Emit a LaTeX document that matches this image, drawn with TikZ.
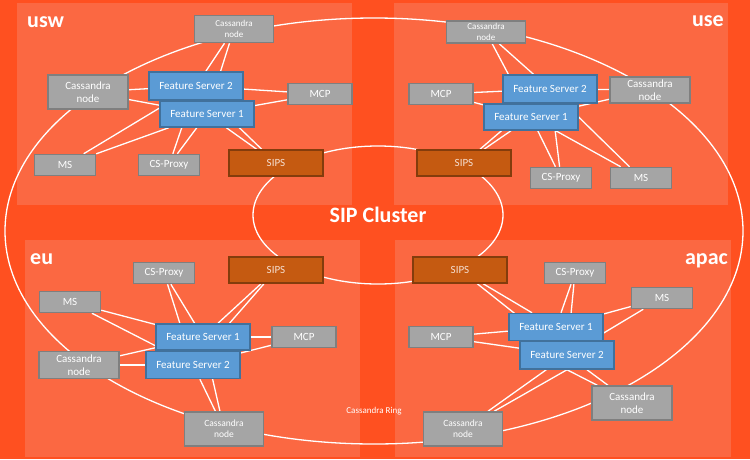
\documentclass[tikz,border=0pt]{standalone}
\usepackage{fontspec}
\setmainfont{Carlito}
\usetikzlibrary{shapes.geometric, positioning}
\pgfdeclarelayer{back}
\pgfdeclarelayer{lines}
\pgfsetlayers{back,lines,main}
\definecolor{frame}{RGB}{255,80,32}
\definecolor{panel}{RGB}{251,104,66}
\definecolor{greyfill}{RGB}{165,165,165}
\definecolor{greyline}{RGB}{127,127,127}
\definecolor{bluefill}{RGB}{91,155,213}
\definecolor{blueline}{RGB}{65,113,156}
\definecolor{sipsfill}{RGB}{197,90,17}
\definecolor{sipsline}{RGB}{132,60,12}
\definecolor{sipstext}{RGB}{245,222,208}

\begin{document}
\begin{tikzpicture}[
    x=1pt, y=-1pt,
    gbox/.style={rectangle, draw=greyline, fill=greyfill, line width=1.5pt, inner sep=1pt, text=white, align=center, font=\fontsize{11pt}{13pt}\selectfont},
    smallbox/.style={gbox, minimum width=61pt, minimum height=21pt},
    mcpbox/.style={gbox, minimum width=64pt, minimum height=21pt},
    cassnode/.style={gbox, minimum width=80pt, minimum height=30pt},
    cassmall/.style={gbox, minimum width=79pt, minimum height=27pt, font=\fontsize{9pt}{10.5pt}\selectfont},
    server/.style={gbox, draw=blueline, fill=bluefill, minimum width=94pt, minimum height=27pt},
    sipsbox/.style={gbox, draw=sipsline, fill=sipsfill, text=sipstext, minimum width=94pt, minimum height=26pt},
    region/.style={font=\fontsize{22pt}{24pt}\selectfont\bfseries, text=white, inner sep=0pt},
    ring/.style={ellipse, draw=white, line width=1.3pt, inner sep=0pt},
    link/.style={draw=white, line width=1.3pt}
]

\begin{pgfonlayer}{back}
\fill[frame] (0,0) rectangle (750,459);
\fill[panel] (17,3) rectangle (352,205);
\fill[panel] (394,3) rectangle (728,205);
\fill[panel] (25,240) rectangle (360,457);
\fill[panel] (395,240) rectangle (731,457);
\end{pgfonlayer}

\node[cassmall] (uswcasstop) at (234,29) {Cassandra\\node};
\node[cassnode, minimum height=34pt] (uswcassleft) at (88,92) {Cassandra\\node};
\node[server, minimum height=28pt] (uswfstwo) at (196,86) {Feature Server 2};
\node[server, minimum height=26pt] (uswfsone) at (207,114) {Feature Server 1};
\node[mcpbox] (uswmcp) at (320,94) {MCP};
\node[smallbox] (uswms) at (65,165) {MS};
\node[smallbox] (uswproxy) at (169,165) {CS-Proxy};
\node[sipsbox] (uswsips) at (276,163) {SIPS};

\node[cassmall, minimum height=22pt] (usecasstop) at (486,32) {Cassandra\\node};
\node[cassnode, minimum height=26pt] (usecassright) at (650,90) {Cassandra\\node};
\node[server, minimum height=28pt] (usefstwo) at (550,89) {Feature Server 2};
\node[server, minimum height=26pt] (usefsone) at (531,117) {Feature Server 1};
\node[mcpbox] (usemcp) at (441,94) {MCP};
\node[sipsbox] (usesips) at (464,163) {SIPS};
\node[smallbox] (useproxy) at (561,178) {CS-Proxy};
\node[smallbox] (usems) at (641,178) {MS};

\node[smallbox] (euproxy) at (164,273) {CS-Proxy};
\node[sipsbox] (eusips) at (276,270) {SIPS};
\node[smallbox] (eums) at (70,302) {MS};
\node[server, minimum height=26pt] (eufsone) at (203,337) {Feature Server 1};
\node[mcpbox] (eumcp) at (304,337) {MCP};
\node[cassnode, minimum height=27pt] (eucassleft) at (79,365) {Cassandra\\node};
\node[server] (eufstwo) at (193,365) {Feature Server 2};
\node[cassmall, minimum height=34pt, font=\fontsize{9.5pt}{11pt}\selectfont] (eucassbottom) at (224,429) {Cassandra\\node};

\node[sipsbox] (apacsips) at (460,270) {SIPS};
\node[smallbox] (apacproxy) at (575,273) {CS-Proxy};
\node[smallbox] (apacms) at (662,298) {MS};
\node[server] (apacfsone) at (556,327) {Feature Server 1};
\node[mcpbox] (apacmcp) at (441,337) {MCP};
\node[server, minimum height=28pt] (apacfstwo) at (567,355) {Feature Server 2};
\node[cassnode, minimum height=34pt] (apaccassright) at (632,403) {Cassandra\\node};
\node[cassmall, minimum height=34pt, font=\fontsize{9.5pt}{11pt}\selectfont] (apaccassbottom) at (463,429) {Cassandra\\node};

\begin{pgfonlayer}{lines}
\node[ring, minimum width=738pt, minimum height=426pt] (cassring) at (374,231) {};
\node[ring, minimum width=250pt, minimum height=138pt, font=\fontsize{22pt}{24pt}\selectfont\bfseries, text=white] (sipring) at (378,215) {SIP Cluster};

\draw[link] (uswcasstop) -- (uswfstwo);
\draw[link] (uswcasstop) -- (uswfsone);
\draw[link] (uswcassleft) -- (uswfstwo);
\draw[link] (uswcassleft) -- (uswfsone);
\draw[link] (uswmcp) -- (uswfstwo);
\draw[link] (uswmcp) -- (uswfsone);
\draw[link] (uswms) -- (uswfstwo);
\draw[link] (uswms) -- (uswfsone);
\draw[link] (uswproxy) -- (uswfstwo);
\draw[link] (uswproxy) -- (uswfsone);
\draw[link] (uswsips) -- (uswfstwo);
\draw[link] (uswsips) -- (uswfsone);

\draw[link] (usecasstop) -- (usefstwo);
\draw[link] (usecasstop) -- (usefsone);
\draw[link] (usecassright) -- (usefstwo);
\draw[link] (usecassright) -- (usefsone);
\draw[link] (usemcp) -- (usefstwo);
\draw[link] (usemcp) -- (usefsone);
\draw[link] (usems) -- (usefstwo);
\draw[link] (usems) -- (usefsone);
\draw[link] (useproxy) -- (usefstwo);
\draw[link] (useproxy) -- (usefsone);
\draw[link] (usesips) -- (usefstwo);
\draw[link] (usesips) -- (usefsone);

\draw[link] (eucassleft) -- (eufstwo);
\draw[link] (eucassleft) -- (eufsone);
\draw[link] (eucassbottom) -- (eufstwo);
\draw[link] (eucassbottom) -- (eufsone);
\draw[link] (eumcp) -- (eufstwo);
\draw[link] (eumcp) -- (eufsone);
\draw[link] (eums) -- (eufstwo);
\draw[link] (eums) -- (eufsone);
\draw[link] (euproxy) -- (eufstwo);
\draw[link] (euproxy) -- (eufsone);
\draw[link] (eusips) -- (eufstwo);
\draw[link] (eusips) -- (eufsone);

\draw[link] (apaccassbottom) -- (apacfstwo);
\draw[link] (apaccassbottom) -- (apacfstwo.south);
\draw[link] (apaccassright) -- (apacfstwo);
\draw[link] (apaccassright) -- (apacfstwo.south);
\draw[link] (apacmcp) -- (apacfstwo);
\draw[link] (apacmcp) -- (apacfsone);
\draw[link] (apacms) -- (apacfstwo);
\draw[link] (apacms) -- (apacfsone);
\draw[link] (apacproxy) -- (apacfstwo);
\draw[link] (apacproxy) -- (apacfsone);
\draw[link] (apacsips) -- (apacfstwo);
\draw[link] (apacsips) -- (apacfsone);
\end{pgfonlayer}

\node[text=white, font=\fontsize{9pt}{10pt}\selectfont] (cassringlabel) at ([yshift=34pt]cassring.south) {Cassandra Ring};

\node[region, anchor=base west] (uswlabel) at (27,27) {usw};
\node[region, anchor=base east] (uselabel) at (724,26) {use};
\node[region, anchor=base west] (eulabel) at (30,264) {eu};
\node[region, anchor=base east] (apaclabel) at (728,264) {apac};

\end{tikzpicture}
\end{document}
